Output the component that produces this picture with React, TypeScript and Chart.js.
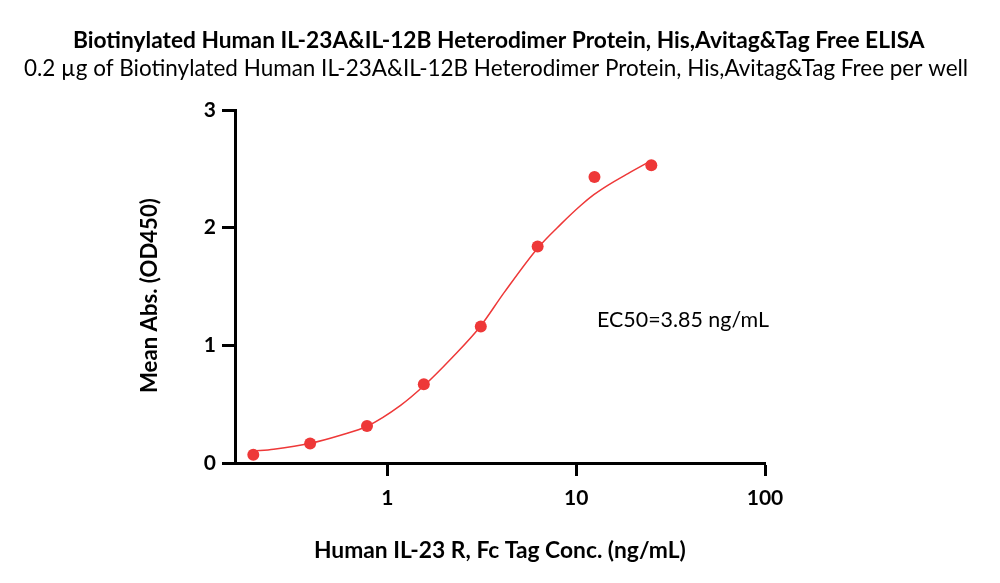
import React, { useEffect, useRef } from "react";
import { Chart, registerables } from "chart.js";

Chart.register(...registerables);

const titleText = "Biotinylated Human IL-23A&IL-12B Heterodimer Protein, His,Avitag&Tag Free ELISA";
const subtitleText = "0.2 µg of Biotinylated Human IL-23A&IL-12B Heterodimer Protein, His,Avitag&Tag Free per well";
const xAxisTitle = "Human IL-23 R, Fc Tag Conc. (ng/mL)";
const yAxisTitle = "Mean Abs. (OD450)";
const ec50Label = "EC50=3.85 ng/mL";

// measured points (ng/mL, OD450)
const concentrations = [0.195, 0.39, 0.78, 1.56, 3.125, 6.25, 12.5, 25];
const meanAbs = [0.07, 0.165, 0.315, 0.67, 1.16, 1.84, 2.43, 2.53];

// fitted curve
const fitConc = [0.195, 0.25, 0.39, 0.565, 0.78, 1.175, 1.55, 2.2, 3.09, 4.16, 6.25, 8.3, 10.6, 12.4, 14.7, 18.8, 25];
const fitAbs = [0.1, 0.117, 0.167, 0.236, 0.312, 0.49, 0.652, 0.895, 1.156, 1.45, 1.826, 2.03, 2.19, 2.28, 2.36, 2.46, 2.57];

const xTicks = [1, 10, 100];
const yTicks = [0, 1, 2, 3];
const xMin = 0.156;
const xMax = 100;
const yMin = 0;
const yMax = 3;

const RED = "rgb(238,56,56)";
const FONT = "Lato, 'Open Sans', sans-serif";

function fitFont(ctx: CanvasRenderingContext2D, text: string, weight: string, width: number) {
  ctx.font = `${weight} 100px ${FONT}`;
  const w = ctx.measureText(text).width;
  const size = (100 * width) / w;
  ctx.font = `${weight} ${size}px ${FONT}`;
}

const textPlugin = {
  id: "textPlugin",
  afterDraw(chart: any) {
    const ctx: CanvasRenderingContext2D = chart.ctx;
    ctx.save();
    ctx.fillStyle = "#000";
    ctx.textBaseline = "alphabetic";

    ctx.textAlign = "left";
    fitFont(ctx, titleText, "bold", 852);
    ctx.fillText(titleText, 73, 48);

    fitFont(ctx, subtitleText, "normal", 945);
    ctx.fillText(subtitleText, 24, 76);

    fitFont(ctx, xAxisTitle, "bold", 372);
    ctx.fillText(xAxisTitle, 314, 558);

    fitFont(ctx, ec50Label, "normal", 172);
    ctx.fillText(ec50Label, 597, 327);

    ctx.save();
    ctx.translate(157, 393);
    ctx.rotate(-Math.PI / 2);
    fitFont(ctx, yAxisTitle, "bold", 195);
    ctx.fillText(yAxisTitle, 0, 0);
    ctx.restore();

    ctx.restore();
  },
};

export default function App() {
  const ref = useRef<HTMLCanvasElement | null>(null);

  useEffect(() => {
    if (!ref.current) return;
    const chart = new Chart(ref.current, {
      type: "scatter",
      data: {
        datasets: [
          {
            type: "line",
            label: "fit",
            data: fitConc.map((x, i) => ({ x, y: fitAbs[i] })),
            borderColor: RED,
            borderWidth: 1.5,
            pointRadius: 0,
            fill: false,
            cubicInterpolationMode: "monotone",
          } as any,
          {
            type: "scatter",
            label: "data",
            data: concentrations.map((x, i) => ({ x, y: meanAbs[i] })),
            backgroundColor: RED,
            borderColor: RED,
            pointRadius: 6,
            pointBorderWidth: 0,
          },
        ],
      },
      options: {
        responsive: false,
        animation: false,
        maintainAspectRatio: false,
        layout: { padding: { top: 110, right: 235, left: 0, bottom: 0 } },
        plugins: {
          legend: { display: false },
          tooltip: { enabled: false },
          title: { display: false },
        },
        scales: {
          x: {
            type: "logarithmic",
            position: "bottom",
            min: xMin,
            max: xMax,
            afterBuildTicks: (s: any) => {
              s.ticks = xTicks.map((v) => ({ value: v, major: true }));
            },
            afterFit: (s: any) => {
              s.height = 120;
            },
            ticks: {
              callback: (v: any) => String(v),
              color: "#000",
              font: { family: FONT, weight: "bold", size: 21 },
              padding: 10,
              maxRotation: 0,
              autoSkip: false,
            },
            grid: {
              display: true,
              drawOnChartArea: false,
              drawTicks: true,
              tickLength: 13,
              tickWidth: 3,
              tickColor: "#000",
            },
            border: { display: true, width: 3, color: "#000" },
          },
          y: {
            type: "linear",
            min: yMin,
            max: yMax,
            afterBuildTicks: (s: any) => {
              s.ticks = yTicks.map((v) => ({ value: v }));
            },
            afterFit: (s: any) => {
              s.width = 235;
            },
            ticks: {
              callback: (v: any) => String(v),
              color: "#000",
              font: { family: FONT, weight: "bold", size: 21 },
              padding: 6,
              autoSkip: false,
            },
            grid: {
              display: true,
              drawOnChartArea: false,
              drawTicks: true,
              tickLength: 13,
              tickWidth: 3,
              tickColor: "#000",
            },
            border: { display: true, width: 3, color: "#000" },
          },
        },
      },
      plugins: [textPlugin],
    });
    return () => chart.destroy();
  }, []);

  return (
    <div style={{ position: "fixed", left: 0, top: 0, width: 1000, height: 583, background: "#fff" }}>
      <canvas ref={ref} width={1000} height={583} style={{ width: 1000, height: 583, display: "block" }} />
    </div>
  );
}
